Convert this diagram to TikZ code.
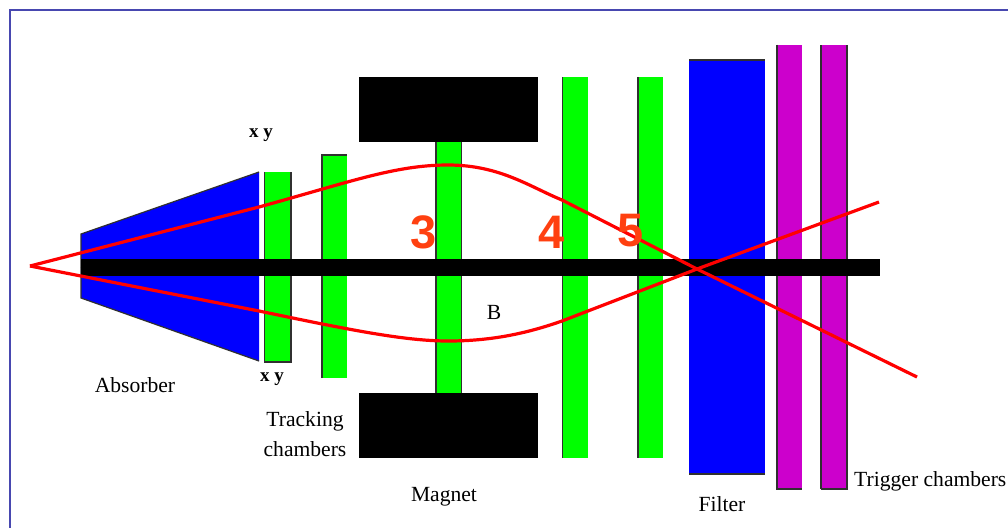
\documentclass[tikz,border=0pt]{standalone}
\usepackage{fontspec}
\setmainfont{Liberation Serif}
\setsansfont{Liberation Sans}
\definecolor{frameBlue}{HTML}{4848B0}
\definecolor{chamberGreen}{HTML}{00FF00}
\definecolor{filterBlue}{HTML}{0000FF}
\definecolor{triggerPurple}{HTML}{CC00CC}
\definecolor{trackRed}{HTML}{FF0000}
\definecolor{digitOrange}{HTML}{FF4010}
\definecolor{edgeGray}{HTML}{303030}
\usetikzlibrary{calc}

\begin{document}
\begin{tikzpicture}[
        x=1pt, y=-1pt,
        edge/.style={edgeGray, line width=1.2pt},
        track/.style={trackRed, line width=3.2pt, line join=round},
        lbl/.style={font=\fontsize{21.6}{21.6}\selectfont, text=black, inner sep=0pt},
        small/.style={font=\fontsize{19}{19}\selectfont\bfseries, text=black, inner sep=0pt},
        digit/.style={font=\fontsize{47}{47}\selectfont\sffamily\bfseries, text=digitOrange, inner sep=0pt}
      ]
        \useasboundingbox (0,0) rectangle (1008,528);
        \fill[white] (0,0) rectangle (1008,528);
        \draw[frameBlue, line width=2pt] (1008,9.5) -- (9.5,9.5) -- (9.5,528);

        % Absorber
        \fill[filterBlue] (81,234) -- (259,172) -- (259,361) -- (81,298) -- cycle;
        \draw[edge] (81,267) -- (81,234) -- (259,172);
        \draw[edge] (81,267) -- (81,298) -- (259,361);

        % Tracking chambers
        \fill[chamberGreen] (264.5,172) rectangle (291,362);
        \draw[edge] (264.5,172) -- (264.5,362) -- (291,362) -- (291,172);
        \fill[chamberGreen] (322,155) rectangle (347,378);
        \draw[edge] (322,378) -- (322,155) -- (347,155);
        \fill[chamberGreen] (436,141) rectangle (461.5,393);
        \draw[edge] (436,141) -- (436,393);
        \draw[edge] (461.5,141) -- (461.5,393);
        \fill[chamberGreen] (562.5,77) rectangle (587.5,457.5);
        \draw[edge] (562.5,77) -- (562.5,457.5);
        \fill[chamberGreen] (638,77) rectangle (663,457.5);
        \draw[edge] (638,77) -- (638,457.5);

        % Magnet
        \fill[black] (359,77) rectangle (538,141.5);
        \fill[black] (359,393) rectangle (538,457.5);

        % Filter
        \fill[filterBlue] (689,60) rectangle (764.5,474);
        \draw[edge] (689,60) -- (764.5,60);
        \draw[edge] (689,474) -- (764.5,474);

        % Trigger chambers
        \fill[triggerPurple] (777,44.5) rectangle (802,489);
        \draw[edge] (777,44.5) -- (777,489) -- (802,489);
        \fill[triggerPurple] (821,44.5) rectangle (847,489);
        \draw[edge] (821,489) -- (821,44.5);
        \draw[edge] (821,489) -- (847,489) -- (847,44.5);

        % Beam pipe
        \fill[black] (81,259) rectangle (880,276);

        % Tracks
        \coordinate (vertex) at (30,266);
        \coordinate (cross) at (697,269);
        \coordinate (endDown) at (917,377);
        \coordinate (endUp) at (879,202);
        \draw[track] (vertex) -- (259,207) .. controls (350,182) and (395,165) .. (448,165)
          .. controls (500,165) and (530,187) .. (562,200) -- (cross) -- (endDown);
        \draw[track] (vertex) -- (259,311) .. controls (350,330) and (405,341) .. (448,341)
          .. controls (490,341) and (525,334) .. (562,321) -- (cross) -- (endUp);

        % Labels
        \node[small] (xyTop) at (261,135) {x y};
        \node[small] (xyBottom) at (272,379) {x y};
        \node[lbl] (absorber) at (135,385) {Absorber};
        \node[lbl, align=center] (tracking) at (305,434) {Tracking\\[9pt]chambers};
        \node[lbl] (magnet) at (444,497) {Magnet};
        \node[lbl] (field) at (494,312) {B};
        \node[lbl] (filter) at (722,504) {Filter};
        \node[lbl, anchor=west] (trigger) at (854,481) {Trigger chambers};
        \node[digit] (three) at (424,232) {3};
        \node[digit] (four) at (552,232) {4};
        \node[digit] (five) at (631,231) {5};
      \end{tikzpicture}
\end{document}
